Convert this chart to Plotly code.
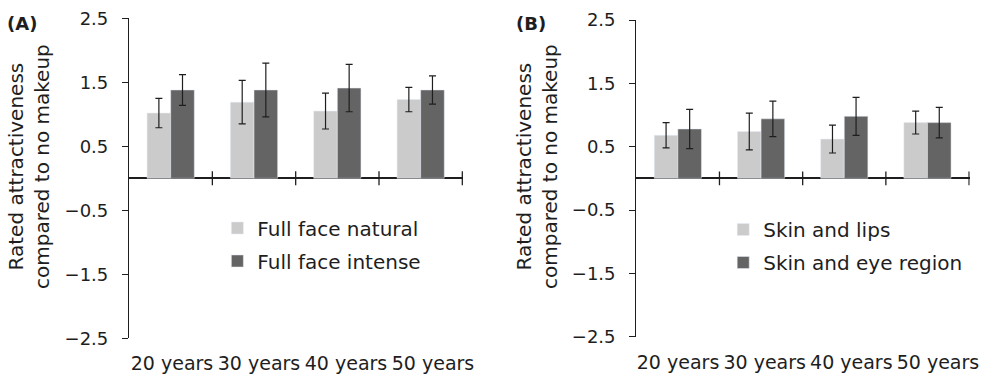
import plotly.graph_objects as go

categories = ["20 years", "30 years", "40 years", "50 years"]

# Panel A
a_natural = [1.02, 1.19, 1.05, 1.23]
a_natural_err = [0.23, 0.34, 0.28, 0.19]
a_intense = [1.38, 1.38, 1.41, 1.38]
a_intense_err = [0.24, 0.42, 0.37, 0.22]

# Panel B
b_lips = [0.68, 0.74, 0.62, 0.88]
b_lips_err = [0.20, 0.29, 0.22, 0.18]
b_eye = [0.78, 0.94, 0.98, 0.88]
b_eye_err = [0.31, 0.28, 0.30, 0.24]

y_ticks = [2.5, 1.5, 0.5, -0.5, -1.5, -2.5]

LIGHT = "#cbcbcb"
DARK = "#646464"
TXT = "#1e1e1e"
FONT = "DejaVu Sans"

fig = go.Figure()

def err(vals):
    return dict(type="data", array=vals, visible=True, color="#1e1e1e",
                thickness=1.2, width=3.5)

fig.add_trace(go.Bar(x=categories, y=a_natural, error_y=err(a_natural_err),
                     marker_color=LIGHT, name="Full face natural",
                     xaxis="x", yaxis="y", legend="legend", legendgroup="a1"))
fig.add_trace(go.Bar(x=categories, y=a_intense, error_y=err(a_intense_err),
                     marker_color=DARK, name="Full face intense",
                     xaxis="x", yaxis="y", legend="legend", legendgroup="a2"))
fig.add_trace(go.Bar(x=categories, y=b_lips, error_y=err(b_lips_err),
                     marker_color=LIGHT, name="Skin and lips",
                     xaxis="x2", yaxis="y2", legend="legend2", legendgroup="b1"))
fig.add_trace(go.Bar(x=categories, y=b_eye, error_y=err(b_eye_err),
                     marker_color=DARK, name="Skin and eye region",
                     xaxis="x2", yaxis="y2", legend="legend2", legendgroup="b2"))

# invisible helper traces so the label-only axes get drawn (on hidden y axes)
for xa, ya, vals in [("x3", "y3", a_natural), ("x4", "y4", b_lips)]:
    fig.add_trace(go.Scatter(x=categories, y=vals, xaxis=xa, yaxis=ya,
                             mode="markers", marker=dict(opacity=0),
                             showlegend=False, hoverinfo="skip"))

xax = dict(type="category", showline=False, ticks="", showgrid=False,
           zeroline=False, automargin=False, showticklabels=False)
# label-only axes (category labels sit slightly wider apart in the original)
lab_ax = dict(type="category", range=[-0.5, len(categories) - 0.5],
              showline=False, ticks="", showgrid=False, zeroline=False,
              automargin=False, fixedrange=True, tickangle=0,
              anchor="free",
              tickfont=dict(family=FONT, size=19, color=TXT),
              ticklabelstandoff=12)
yax = dict(range=[-2.5, 2.5], tickvals=y_ticks, automargin=False,
           showline=True, linecolor="#1e1e1e", linewidth=1.3,
           ticks="outside", ticklen=6, tickwidth=1.3, tickcolor="#1e1e1e",
           showgrid=False, zeroline=True, zerolinecolor="#1e1e1e",
           zerolinewidth=1.5, tickformat=".1f",
           tickfont=dict(family=FONT, size=18, color=TXT),
           ticklabelstandoff=10)
hidden_y = dict(range=[-2.5, 2.5], visible=False, showgrid=False,
                zeroline=False, automargin=False, fixedrange=True)

fig.update_layout(
    width=988, height=385,
    margin=dict(l=0, r=0, t=0, b=0, autoexpand=False),
    paper_bgcolor="white", plot_bgcolor="rgba(0,0,0,0)",
    barmode="group", bargap=0.433, bargroupgap=0,
    xaxis=dict(domain=[0.1306, 0.4686], anchor="y", **xax),
    yaxis=dict(domain=[0.1213, 0.9525], anchor="x", **yax),
    xaxis2=dict(domain=[0.644, 0.9815], anchor="y2", **xax),
    yaxis2=dict(domain=[0.1255, 0.948], anchor="x2", **yax),
    xaxis3=dict(domain=[128.5 / 988, 476.5 / 988], position=0.1213, **lab_ax),
    xaxis4=dict(domain=[634.7 / 988, 981.3 / 988], position=0.1255, **lab_ax),
    yaxis3=dict(domain=[0.1213, 0.9525], anchor="x3", **hidden_y),
    yaxis4=dict(domain=[0.1255, 0.948], anchor="x4", **hidden_y),
    legend=dict(x=0.220, y=0.365, xanchor="left", yanchor="middle",
                bgcolor="rgba(0,0,0,0)", tracegroupgap=4,
                font=dict(family=FONT, size=20, color=TXT)),
    legend2=dict(x=0.732, y=0.361, xanchor="left", yanchor="middle",
                 bgcolor="rgba(0,0,0,0)", tracegroupgap=4,
                 font=dict(family=FONT, size=20, color=TXT)),
    showlegend=True,
)

# category boundary ticks on the zero line
for xa in ["x", "x2"]:
    for i in range(len(categories)):
        fig.add_shape(type="line", xref=xa, yref="y" if xa == "x" else "y2",
                      x0=i + 0.5, x1=i + 0.5, y0=-0.11, y1=0.11,
                      line=dict(color="#1e1e1e", width=1.3))

ytitle = "Rated attractiveness<br>compared to no makeup"
for xpos, lab, lx in [(29 / 988, "(A)", 22 / 988), (537 / 988, "(B)", 531 / 988)]:
    fig.add_annotation(text=ytitle, x=xpos, y=(385 - 167) / 385,
                       xref="paper", yref="paper", showarrow=False,
                       textangle=-90, xanchor="center", yanchor="middle",
                       font=dict(family=FONT, size=20, color=TXT))
    fig.add_annotation(text="<b>" + lab + "</b>", x=lx, y=(385 - 23) / 385,
                       xref="paper", yref="paper", showarrow=False,
                       xanchor="center", yanchor="middle",
                       font=dict(family=FONT, size=18, color=TXT))

fig.write_html("out.html", config={"displayModeBar": False},
               post_script="document.body.style.margin='0px';document.body.style.overflow='hidden';")
